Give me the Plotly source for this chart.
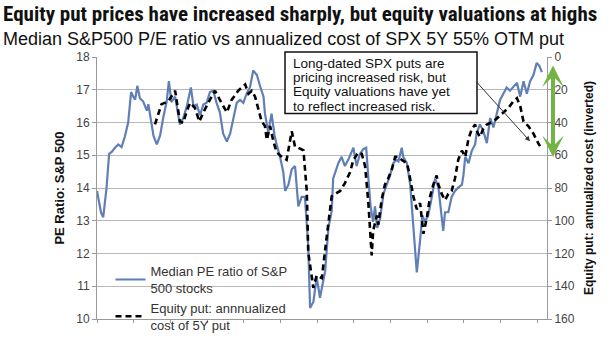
import plotly.graph_objects as go

# Decimal-year positions (x axis has no labels in the reference)
pe_years = [2002.00, 2002.11, 2002.17, 2002.26, 2002.33, 2002.40, 2002.49, 2002.58, 2002.67, 2002.76,
            2002.85, 2002.93, 2002.99, 2003.04, 2003.10, 2003.17, 2003.26, 2003.36, 2003.40, 2003.47,
            2003.54, 2003.63, 2003.72, 2003.81, 2003.90, 2003.96, 2004.03, 2004.13, 2004.26, 2004.35,
            2004.45, 2004.56, 2004.63, 2004.72, 2004.81, 2004.90, 2004.99, 2005.08, 2005.17, 2005.26,
            2005.35, 2005.44, 2005.54, 2005.63, 2005.72, 2005.81, 2005.90, 2005.99, 2006.08, 2006.17,
            2006.26, 2006.36, 2006.45, 2006.54, 2006.58, 2006.67, 2006.76, 2006.84, 2006.90, 2006.99,
            2007.08, 2007.13, 2007.22, 2007.31, 2007.40, 2007.49, 2007.58, 2007.67, 2007.76, 2007.81,
            2007.90, 2007.99, 2008.08, 2008.22, 2008.31, 2008.40, 2008.44, 2008.58, 2008.67, 2008.76,
            2008.85, 2008.95, 2008.99, 2009.08, 2009.17, 2009.26, 2009.34, 2009.40, 2009.46, 2009.53,
            2009.58, 2009.64, 2009.72, 2009.81, 2009.90, 2009.99, 2010.08, 2010.17, 2010.22, 2010.31,
            2010.35, 2010.45, 2010.54, 2010.63, 2010.72, 2010.81, 2010.87, 2010.94, 2011.03, 2011.13,
            2011.22, 2011.31, 2011.40, 2011.44, 2011.49, 2011.58, 2011.67, 2011.76, 2011.85, 2011.95,
            2011.99, 2012.04, 2012.13, 2012.22, 2012.31, 2012.35, 2012.44, 2012.53, 2012.63, 2012.72,
            2012.81, 2012.90, 2012.99, 2013.08, 2013.17, 2013.26, 2013.35, 2013.45, 2013.54, 2013.63,
            2013.72, 2013.81, 2013.90, 2013.99, 2014.06, 2014.13]
pe_values = [13.91, 13.25, 13.11, 14.00, 15.04, 15.10, 15.23, 15.33, 15.25, 15.57,
             16.00, 16.93, 16.79, 16.70, 17.12, 16.74, 16.64, 16.36, 16.56, 16.14,
             15.60, 15.33, 15.60, 16.17, 16.64, 17.26, 16.62, 16.79, 15.94, 16.13,
             16.50, 17.07, 16.50, 16.55, 16.22, 16.55, 16.60, 16.93, 16.97, 16.60,
             16.31, 15.66, 15.42, 15.66, 16.13, 16.60, 16.69, 16.60, 16.88, 17.07,
             17.59, 17.45, 17.10, 16.79, 16.27, 15.70, 16.27, 15.61, 15.33, 14.95,
             14.48, 13.91, 14.10, 14.57, 14.67, 13.44, 13.73, 13.73, 12.22, 10.34,
             10.52, 11.28, 10.65, 11.46, 12.78, 13.30, 14.29, 14.76, 14.95, 14.67,
             14.86, 15.14, 15.23, 14.67, 15.04, 15.19, 15.23, 14.29, 13.44, 12.97,
             13.44, 12.78, 13.07, 13.82, 14.10, 14.38, 14.76, 14.86, 14.81, 15.23,
             14.95, 14.76, 14.10, 12.88, 11.42, 12.41, 13.16, 12.97, 13.16, 13.73,
             14.29, 14.01, 12.97, 12.69, 13.26, 13.26, 13.73, 13.91, 14.01, 14.10,
             14.38, 14.95, 14.76, 15.14, 15.33, 15.66, 15.94, 15.75, 15.37, 16.13,
             15.85, 16.31, 16.69, 16.88, 17.07, 16.97, 17.07, 17.21, 16.79, 17.26,
             16.88, 17.26, 17.45, 17.82, 17.73, 17.54]

put_years = [2003.58, 2003.76, 2003.85, 2003.94, 2004.13, 2004.26, 2004.35, 2004.45, 2004.54, 2004.67,
             2004.79, 2004.90, 2005.08, 2005.22, 2005.35, 2005.54, 2005.67, 2005.85, 2006.04, 2006.13,
             2006.22, 2006.31, 2006.40, 2006.49, 2006.58, 2006.63, 2006.72, 2006.81, 2006.90, 2006.95,
             2007.04, 2007.17, 2007.31, 2007.40, 2007.49, 2007.63, 2007.72, 2007.76, 2007.85, 2007.90,
             2007.99, 2008.13, 2008.26, 2008.40, 2008.54, 2008.63, 2008.76, 2008.90, 2008.99, 2009.13,
             2009.22, 2009.31, 2009.40, 2009.44, 2009.49, 2009.53, 2009.63, 2009.67, 2009.76, 2009.85,
             2009.94, 2010.04, 2010.13, 2010.22, 2010.31, 2010.45, 2010.49, 2010.63, 2010.72, 2010.81,
             2010.90, 2010.99, 2011.08, 2011.17, 2011.26, 2011.31, 2011.40, 2011.49, 2011.58, 2011.67,
             2011.76, 2011.85, 2011.95, 2012.04, 2012.13, 2012.22, 2012.31, 2012.35, 2012.44, 2012.53,
             2012.63, 2012.81, 2012.94, 2013.08, 2013.22, 2013.35, 2013.45, 2013.54, 2013.63, 2013.76,
             2013.90, 2014.03, 2014.08]
put_values = [41.2, 28.8, 28.0, 27.2, 20.6, 39.4, 40.2, 32.8, 28.0, 31.0,
              39.4, 33.8, 26.0, 20.6, 26.2, 33.8, 26.2, 20.6, 16.8, 22.4,
              20.6, 24.2, 31.8, 39.4, 42.2, 50.6, 42.2, 51.6, 58.2, 59.2,
              61.0, 62.8, 45.4, 54.8, 55.4, 57.0, 82.0, 119.4, 133.0, 141.0,
              133.4, 135.0, 110.4, 85.0, 83.0, 81.8, 77.0, 70.4, 62.8, 58.2,
              59.2, 66.6, 89.2, 104.4, 121.2, 106.2, 96.8, 102.4, 87.4, 78.0,
              74.2, 68.6, 61.0, 61.0, 62.8, 64.8, 68.6, 85.4, 93.0, 89.2,
              108.0, 98.6, 85.4, 78.0, 72.4, 78.0, 83.6, 87.4, 83.6, 81.8,
              74.2, 62.8, 57.2, 61.0, 49.8, 44.0, 41.2, 45.0, 48.8, 44.0,
              41.2, 39.4, 36.6, 33.8, 31.0, 27.2, 25.2, 30.0, 39.4, 42.2,
              46.8, 52.6, 54.4]

pe_ticks = list(range(10, 19))
put_ticks = list(range(0, 161, 20))
year_ticks = list(range(2002, 2015))

box_lines = ["Long-dated SPX puts are", "pricing increased risk, but",
             "Equity valuations have yet", "to reflect increased risk."]

FONT = "Liberation Sans, Arial, sans-serif"


def px(x):
    return (x - 97) / 450


def py(y):
    return (340 - y) / 283


fig = go.Figure()
fig.add_trace(go.Scatter(x=pe_years, y=pe_values, mode="lines",
                         name="Median PE ratio of S&P<br>500 stocks",
                         line=dict(color="#5f7fb6", width=2.2)))
fig.add_trace(go.Scatter(x=put_years, y=put_values, mode="lines", yaxis="y2",
                         name="Equity put: annnualized<br>cost of 5Y put",
                         line=dict(color="#000000", width=2.6, dash="6px,4px")))

fig.update_layout(
    width=614, height=346,
    margin=dict(l=97, r=67, t=57, b=6),
    paper_bgcolor="white", plot_bgcolor="white",
    font=dict(family=FONT, color="#222"),
    title=dict(text="<b>Equity put prices have increased sharply, but equity valuations at highs</b>",
               x=0.005, xanchor="left", xref="container", y=1 - 14 / 346, yanchor="middle",
               yref="container",
               font=dict(family="Liberation Sans Narrow, Roboto Condensed, Arial Narrow, Liberation Sans",
                         size=21, color="#111")),
    xaxis=dict(range=[2002.0, 2014.27], tickvals=year_ticks, showticklabels=False,
               ticks="outside", ticklen=3, tickcolor="#999", showgrid=False,
               showline=True, linecolor="#999", linewidth=1, zeroline=False),
    yaxis=dict(range=[10, 18], tickvals=pe_ticks, ticks="outside", ticklen=4, tickcolor="#999",
               showline=True, linecolor="#999", linewidth=1,
               gridcolor="#b8b8b8", gridwidth=1.2, zeroline=False,
               tickfont=dict(size=12, color="#444"),
               title=dict(text="<b>PE Ratio: S&P 500</b>", font=dict(size=13, color="#111"), standoff=8)),
    yaxis2=dict(range=[160, 0], tickvals=put_ticks, overlaying="y", side="right",
                ticks="outside", ticklen=4, tickcolor="#999", showline=True, linecolor="#999",
                linewidth=1, showgrid=False, zeroline=False,
                tickfont=dict(size=12, color="#444"),
                title=dict(text="<b>Equity put: annualized cost (inverted)</b>",
                           font=dict(size=12, color="#111"), standoff=10)),
    legend=dict(x=0.03, y=0.24, xanchor="left", yanchor="top", bgcolor="rgba(0,0,0,0)",
                font=dict(size=13, color="#333"), tracegroupgap=2),
    showlegend=True,
)

fig.add_annotation(text="Median S&P500 P/E ratio vs annualized cost of SPX 5Y 55% OTM put",
                   xref="paper", yref="paper", x=px(1), y=py(38),
                   xanchor="left", yanchor="middle", showarrow=False,
                   font=dict(size=18, color="#111"))

# Text box
fig.add_shape(type="rect", xref="paper", yref="paper", x0=px(285), x1=px(477), y0=py(118), y1=py(51.7),
              fillcolor="white", line=dict(color="#111", width=1.5), layer="above")
for i, line in enumerate(box_lines):
    fig.add_annotation(text=line, xref="paper", yref="paper", x=px(291), y=py(63.5 + 15.6 * i),
                       xanchor="left", yanchor="middle", showarrow=False,
                       font=dict(size=13.5, color="#111"))

fig.add_annotation(xref="paper", yref="paper", x=px(530), y=py(148),
                   ax=-55, ay=-61, showarrow=True, arrowhead=2, arrowsize=1, arrowwidth=1,
                   arrowcolor="#333", text="")

fig.add_annotation(xref="paper", yref="paper", x=px(553), y=py(165),
                   ax=0, ay=-93, showarrow=True, arrowside="end+start", arrowhead=3, startarrowhead=3,
                   arrowsize=0.9, startarrowsize=0.9, arrowwidth=4, arrowcolor="#72b545", text="")

fig.write_html("out.html")
